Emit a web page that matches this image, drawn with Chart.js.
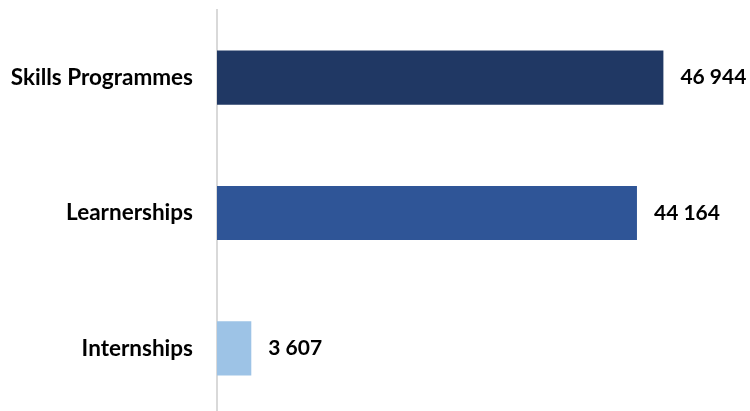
<!DOCTYPE html>
<html>
<head>
<meta charset="utf-8">
<script src="https://cdn.jsdelivr.net/npm/chart.js@4/dist/chart.umd.min.js"></script>
<style>
  html, body { margin: 0; padding: 0; background: #ffffff; overflow: hidden; }
  canvas { display: block; }
</style>
</head>
<body>
<canvas id="chart" width="750" height="416"></canvas>
<script>
// Programme types and number of learners entered
const categories = ['Skills Programmes', 'Learnerships', 'Internships'];
const learners = [46944, 44164, 3607];
const valueLabels = ['46 944', '44 164', '3 607'];
const barColours = ['#203864', '#2f5597', '#9dc3e6'];

const FONT = 'Lato, "Open Sans", sans-serif';

// Category names to the left of the axis and values past each bar's end
const textPlugin = {
  id: 'barText',
  afterDatasetsDraw(chart) {
    const ctx = chart.ctx;
    const yScale = chart.scales.y;
    const meta = chart.getDatasetMeta(0);
    ctx.save();
    ctx.fillStyle = '#000000';
    ctx.textBaseline = 'middle';

    ctx.font = 'bold 22.5px ' + FONT;
    ctx.textAlign = 'right';
    categories.forEach((name, i) => {
      ctx.fillText(name, yScale.right - 24, yScale.getPixelForTick(i));
    });

    ctx.font = 'bold 21px ' + FONT;
    ctx.textAlign = 'left';
    meta.data.forEach((bar, i) => {
      ctx.fillText(valueLabels[i], bar.x + 17, bar.y);
    });
    ctx.restore();
  }
};

new Chart(document.getElementById('chart'), {
  type: 'bar',
  data: {
    labels: categories,
    datasets: [{
      data: learners,
      backgroundColor: barColours,
      borderWidth: 0,
      categoryPercentage: 1.0,
      barPercentage: 0.4
    }]
  },
  options: {
    indexAxis: 'y',
    responsive: false,
    animation: false,
    layout: { padding: { top: 10, bottom: 0, left: 0, right: 10 } },
    plugins: { legend: { display: false }, tooltip: { enabled: false } },
    scales: {
      x: {
        min: 0,
        max: 55000,
        display: false,
        grid: { display: false }
      },
      y: {
        offset: true,
        grid: { display: false, drawTicks: false },
        border: { display: true, color: '#d9d9d9', width: 2 },
        ticks: { display: false },
        afterFit(scale) { scale.width = 217; }
      }
    }
  },
  plugins: [textPlugin]
});
</script>
</body>
</html>
